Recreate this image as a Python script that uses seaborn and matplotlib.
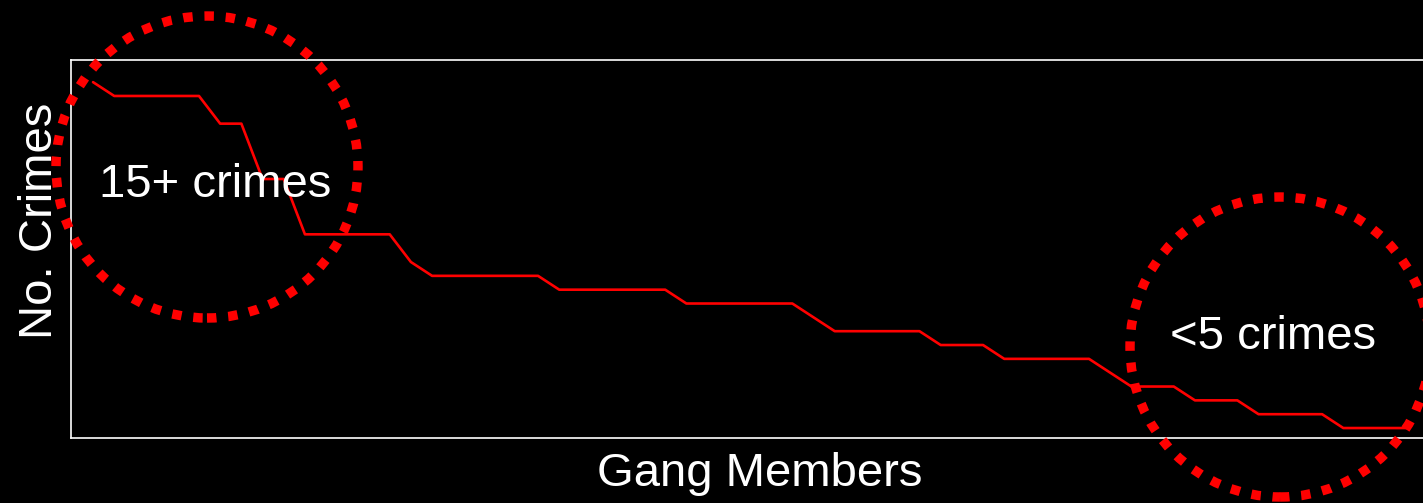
import numpy as np
import pandas as pd
import matplotlib
matplotlib.use("Agg")
import matplotlib.pyplot as plt
from matplotlib.patches import Circle
import seaborn as sns

# crimes per gang member, sorted high to low
crimes = [26, 25, 25, 25, 25, 25, 23, 23, 19, 19,
          15, 15, 15, 15, 15, 13, 12, 12, 12, 12,
          12, 12, 11, 11, 11, 11, 11, 11, 10, 10,
          10, 10, 10, 10, 9, 8, 8, 8, 8, 8,
          7, 7, 7, 6, 6, 6, 6, 6, 5, 4,
          4, 4, 3, 3, 3, 2, 2, 2, 2, 1,
          1, 1, 1]
members = list(range(len(crimes)))

x_label = "Gang Members"
y_label = "No. Crimes"
high_label = "15+ crimes"
low_label = "<5 crimes"

df = pd.DataFrame({"member": members, "crimes": crimes})

sns.set_style("white", rc={"axes.facecolor": "black", "figure.facecolor": "black",
                           "axes.edgecolor": "white"})
plt.rcParams["font.family"] = ["Liberation Sans", "DejaVu Sans"]

W, H = 1423, 503
fig = plt.figure(figsize=(W / 100, H / 100), dpi=100)
ax = fig.add_axes([71 / W, (H - 438) / H, 1356 / W, 378 / H])

sns.lineplot(data=df, x="member", y="crimes", color="red", linewidth=1.9, ax=ax)

ax.set_xlim(-1.04, 62.95)
ax.set_ylim(0.28, 27.6)
ax.set_xticks([])
ax.set_yticks([])
ax.set_xlabel("")
ax.set_ylabel("")
for s in ax.spines.values():
    s.set_color("#ffffff")
    s.set_linewidth(1.2)

# axis labels
fig.text(760 / W, (H - 486) / H, x_label, color="white", fontsize=34,
         ha="center", va="baseline")
fig.text(52 / W, (H - 221) / H, y_label, color="white", fontsize=34,
         ha="center", va="baseline", rotation=90, rotation_mode="anchor")

# highlight circles (pixel positions)
fig.text(215 / W, (H - 185) / H, high_label, color="white", fontsize=34,
         ha="center", va="center", zorder=5)
fig.text(1273 / W, (H - 337) / H, low_label, color="white", fontsize=34,
         ha="center", va="center", zorder=5)

for cx, cy, r in [(207, 167, 151), (1280, 347, 150)]:
    c = Circle((cx / 100, (H - cy) / 100), r / 100, transform=fig.dpi_scale_trans,
               fill=False, edgecolor="red", linewidth=6.8, linestyle=(0, (1.0, 1.25)))
    fig.patches.append(c)

fig.savefig("out.png", dpi=100, facecolor="black")
